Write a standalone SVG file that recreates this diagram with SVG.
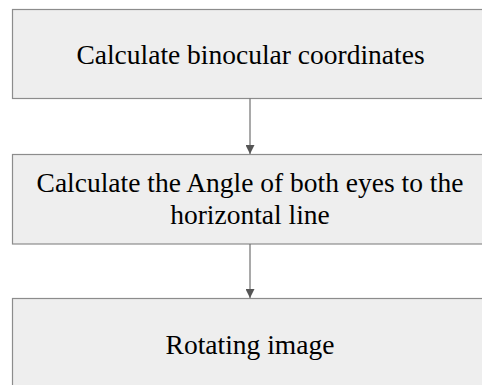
<svg xmlns="http://www.w3.org/2000/svg" width="482" height="385" viewBox="0 0 482 385">
<defs>
<style>
.box{fill:#eeeeee;stroke:#8c8c8c;stroke-width:1.2}
.lbl{font-family:"Liberation Serif","Times New Roman",serif;font-size:27.5px;fill:#000;text-anchor:middle}
.conn{stroke:#707070;stroke-width:1.2;fill:none}
</style>
<marker id="ah" markerWidth="9" markerHeight="9" refX="9" refY="4.5" orient="auto" markerUnits="userSpaceOnUse">
<path d="M0,0 L9,4.5 L0,9 Z" fill="#555555"/>
</marker>
</defs>
<rect width="482" height="385" fill="#ffffff"/>
<g id="node1">
<rect class="box" x="12.5" y="9.5" width="475" height="89"/>
<text class="lbl" x="250.5" y="64">Calculate binocular coordinates</text>
</g>
<g id="node2">
<rect class="box" x="12.5" y="154.5" width="475" height="89.5"/>
<text class="lbl" x="250" y="192">Calculate the Angle of both eyes to the</text>
<text class="lbl" x="250" y="224">horizontal line</text>
</g>
<g id="node3">
<rect class="box" x="12.5" y="298.5" width="475" height="92"/>
<text class="lbl" x="250" y="354">Rotating image</text>
</g>
<g id="connectors">
<line class="conn" x1="250" y1="98.5" x2="250" y2="154" marker-end="url(#ah)"/>
<line class="conn" x1="250" y1="244" x2="250" y2="298" marker-end="url(#ah)"/>
</g>
</svg>
